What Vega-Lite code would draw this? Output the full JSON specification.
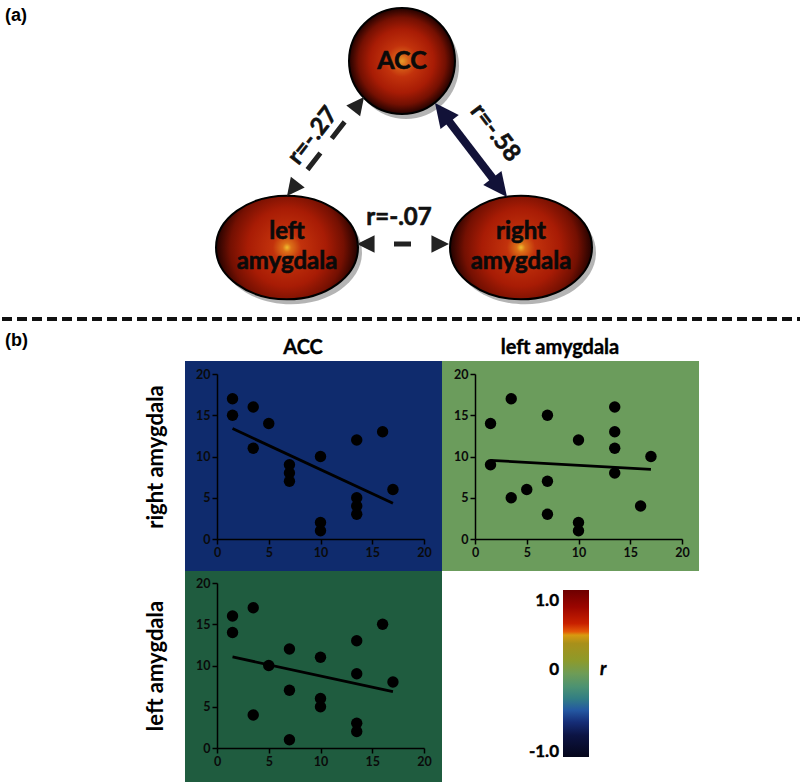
{
  "$schema": "https://vega.github.io/schema/vega-lite/v6.json",
  "padding": 0,
  "background": "white",
  "spacing": -2,
  "config": {
    "font": "Lato",
    "view": {"stroke": null},
    "axis": {"domainColor": "#000", "domainWidth": 1.5, "tickColor": "#000", "tickWidth": 1.5, "tickSize": 5, "labelFont": "Lato", "labelFontSize": 12.5, "labelFontWeight": "bold", "labelColor": "#0a0a0a", "labelPadding": 2, "titleFont": "Lato", "titleFontSize": 22, "titleFontWeight": "bold", "titleColor": "#000", "titlePadding": 28, "grid": false}
  },
  "datasets": {
    "nodes": [
      {"region": "ACC", "cx": 400, "cy": 61, "label": "ACC"},
      {"region": "left amygdala", "cx": 285, "cy": 247.5, "label": ["left", "amygdala"]},
      {"region": "right amygdala", "cx": 519, "cy": 247.5, "label": ["right", "amygdala"]}
    ],
    "edges": [
      {"pair": "ACC-right amygdala", "r": -0.58, "label": "r=-.58", "xa": 445.8, "ya": 119.7, "xb": 492.2, "yb": 180.3, "lx": 493, "ly": 133, "angle": 52.5},
      {"pair": "ACC-left amygdala", "r": -0.27, "label": "r=-.27", "xa": 354.0, "ya": 107.3, "xb": 293.0, "yb": 185.7, "lx": 311, "ly": 136, "angle": -52},
      {"pair": "left amygdala-right amygdala", "r": -0.07, "label": "r=-.07", "xa": 368, "ya": 244, "xb": 434, "yb": 244, "lx": 397, "ly": 218, "angle": 0}
    ],
    "tips": [
      {"pair": "ACC-right amygdala", "tx": 433, "ty": 103, "dir": 322.5},
      {"pair": "ACC-right amygdala", "tx": 505, "ty": 197, "dir": 142.5},
      {"pair": "ACC-left amygdala", "tx": 362, "ty": 97, "dir": 37.9},
      {"pair": "ACC-left amygdala", "tx": 285, "ty": 196, "dir": 217.9},
      {"pair": "left amygdala-right amygdala", "tx": 355, "ty": 244, "dir": 270},
      {"pair": "left amygdala-right amygdala", "tx": 447, "ty": 244, "dir": 90}
    ],
    "panels": [
      {"panel": "(a)", "px": 3, "py": 21},
      {"panel": "(b)", "px": 3, "py": 346}
    ],
    "columns": [
      {"title": "ACC", "px": 301},
      {"title": "left amygdala", "px": 558}
    ],
    "tl": [
      {"xv": 1.5, "yv": 17}, {"xv": 1.5, "yv": 15}, {"xv": 3.5, "yv": 16}, {"xv": 3.5, "yv": 11}, {"xv": 5, "yv": 14},
      {"xv": 7, "yv": 9}, {"xv": 7, "yv": 8}, {"xv": 7, "yv": 7}, {"xv": 10, "yv": 10}, {"xv": 10, "yv": 2}, {"xv": 10, "yv": 1},
      {"xv": 13.5, "yv": 12}, {"xv": 13.5, "yv": 5}, {"xv": 13.5, "yv": 4}, {"xv": 13.5, "yv": 3}, {"xv": 16, "yv": 13}, {"xv": 17, "yv": 6}
    ],
    "tr": [
      {"xv": 1.5, "yv": 14}, {"xv": 1.5, "yv": 9}, {"xv": 3.5, "yv": 17}, {"xv": 3.5, "yv": 5}, {"xv": 5, "yv": 6},
      {"xv": 7, "yv": 15}, {"xv": 7, "yv": 7}, {"xv": 7, "yv": 3}, {"xv": 10, "yv": 12}, {"xv": 10, "yv": 2}, {"xv": 10, "yv": 1},
      {"xv": 13.5, "yv": 16}, {"xv": 13.5, "yv": 13}, {"xv": 13.5, "yv": 11}, {"xv": 13.5, "yv": 8}, {"xv": 16, "yv": 4}, {"xv": 17, "yv": 10}
    ],
    "bl": [
      {"xv": 1.5, "yv": 16}, {"xv": 1.5, "yv": 14}, {"xv": 3.5, "yv": 17}, {"xv": 3.5, "yv": 4}, {"xv": 5, "yv": 10},
      {"xv": 7, "yv": 12}, {"xv": 7, "yv": 7}, {"xv": 7, "yv": 1}, {"xv": 10, "yv": 11}, {"xv": 10, "yv": 6}, {"xv": 10, "yv": 5},
      {"xv": 13.5, "yv": 13}, {"xv": 13.5, "yv": 9}, {"xv": 13.5, "yv": 3}, {"xv": 13.5, "yv": 2}, {"xv": 16, "yv": 15}, {"xv": 17, "yv": 8}
    ],
    "ticks": [
      {"r": 1, "lab": "1.0"},
      {"r": 0, "lab": "0"},
      {"r": -1, "lab": "-1.0"}
    ]
  },
  "vconcat": [
    {
      "width": 800,
      "height": 362,
      "layer": [
        {
          "data": {"values": [{}]},
          "mark": {"type": "rule", "strokeWidth": 4, "strokeDash": [10, 5], "color": "#111"},
          "encoding": {
            "x": {"datum": 0, "type": "quantitative", "scale": {"domain": [0, 800], "nice": false, "zero": false}, "axis": null},
            "x2": {"datum": 800},
            "y": {"datum": 319, "type": "quantitative", "scale": {"domain": [0, 362], "reverse": true, "nice": false, "zero": false}, "axis": null}
          }
        },
        {
          "data": {"name": "nodes"},
          "transform": [{"filter": "datum.region != 'ACC'"}],
          "mark": {"type": "point", "filled": true, "shape": "M -1 0 A 1 0.73 0 1 1 1 0 A 1 0.73 0 1 1 -1 0 Z", "size": 20164, "fill": "#444", "opacity": 0.4, "strokeWidth": 0, "xOffset": 4, "yOffset": 5},
          "encoding": {
            "x": {"field": "cx", "type": "quantitative", "scale": {"domain": [0, 800], "nice": false, "zero": false}, "axis": null},
            "y": {"field": "cy", "type": "quantitative", "scale": {"domain": [0, 362], "reverse": true, "nice": false, "zero": false}, "axis": null}
          }
        },
        {
          "data": {"name": "nodes"},
          "transform": [{"filter": "datum.region == 'ACC'"}],
          "mark": {"type": "point", "filled": true, "shape": "circle", "size": 11236, "fill": "#444", "opacity": 0.4, "strokeWidth": 0, "xOffset": 4, "yOffset": 5},
          "encoding": {
            "x": {"field": "cx", "type": "quantitative", "scale": {"domain": [0, 800], "nice": false, "zero": false}, "axis": null},
            "y": {"field": "cy", "type": "quantitative", "scale": {"domain": [0, 362], "reverse": true, "nice": false, "zero": false}, "axis": null}
          }
        },
        {
          "data": {"name": "nodes"},
          "transform": [{"filter": "datum.region != 'ACC'"}],
          "mark": {"type": "point", "filled": true, "shape": "M -1 0 A 1 0.73 0 1 1 1 0 A 1 0.73 0 1 1 -1 0 Z", "size": 20164, "opacity": 1, "stroke": "#000", "strokeWidth": 2,
            "fill": {"gradient": "radial", "x1": 0.5, "y1": 0.5, "r1": 0, "x2": 0.5, "y2": 0.5, "r2": 0.5, "stops": [{"offset": 0, "color": "#f0c030"}, {"offset": 0.06, "color": "#dc7018"}, {"offset": 0.2, "color": "#c2320c"}, {"offset": 0.55, "color": "#a81c05"}, {"offset": 0.8, "color": "#741002"}, {"offset": 1, "color": "#220200"}]}},
          "encoding": {
            "x": {"field": "cx", "type": "quantitative", "scale": {"domain": [0, 800], "nice": false, "zero": false}, "axis": null},
            "y": {"field": "cy", "type": "quantitative", "scale": {"domain": [0, 362], "reverse": true, "nice": false, "zero": false}, "axis": null}
          }
        },
        {
          "data": {"name": "nodes"},
          "transform": [{"filter": "datum.region == 'ACC'"}],
          "mark": {"type": "point", "filled": true, "shape": "circle", "size": 11236, "opacity": 1, "stroke": "#000", "strokeWidth": 2,
            "fill": {"gradient": "radial", "x1": 0.5, "y1": 0.5, "r1": 0, "x2": 0.5, "y2": 0.5, "r2": 0.5, "stops": [{"offset": 0, "color": "#e89a28"}, {"offset": 0.12, "color": "#d86018"}, {"offset": 0.3, "color": "#c2320c"}, {"offset": 0.6, "color": "#a81c05"}, {"offset": 0.82, "color": "#741002"}, {"offset": 1, "color": "#220200"}]}},
          "encoding": {
            "x": {"field": "cx", "type": "quantitative", "scale": {"domain": [0, 800], "nice": false, "zero": false}, "axis": null},
            "y": {"field": "cy", "type": "quantitative", "scale": {"domain": [0, 362], "reverse": true, "nice": false, "zero": false}, "axis": null}
          }
        },
        {
          "data": {"name": "nodes"},
          "transform": [{"filter": "datum.region == 'ACC'"}],
          "mark": {"type": "text", "font": "Lato", "fontSize": 25, "fontWeight": "bold", "color": "#0a0a0a", "stroke": "#0a0a0a", "strokeWidth": 0.6, "align": "center", "baseline": "middle"},
          "encoding": {
            "x": {"field": "cx", "type": "quantitative", "scale": {"domain": [0, 800], "nice": false, "zero": false}, "axis": null},
            "y": {"field": "cy", "type": "quantitative", "scale": {"domain": [0, 362], "reverse": true, "nice": false, "zero": false}, "axis": null},
            "text": {"field": "label", "type": "nominal"}
          }
        },
        {
          "data": {"name": "nodes"},
          "transform": [{"filter": "datum.region != 'ACC'"}],
          "mark": {"type": "text", "font": "Lato", "fontSize": 24, "fontWeight": "bold", "color": "#0a0a0a", "stroke": "#0a0a0a", "strokeWidth": 0.6, "align": "center", "baseline": "middle", "lineHeight": 30, "dy": -15.5},
          "encoding": {
            "x": {"field": "cx", "type": "quantitative", "scale": {"domain": [0, 800], "nice": false, "zero": false}, "axis": null},
            "y": {"field": "cy", "type": "quantitative", "scale": {"domain": [0, 362], "reverse": true, "nice": false, "zero": false}, "axis": null},
            "text": {"field": "label", "type": "nominal"}
          }
        },
        {
          "data": {"name": "edges"},
          "transform": [{"filter": "datum.pair == 'ACC-right amygdala'"}],
          "mark": {"type": "rule", "strokeWidth": 8, "color": "#121238", "strokeCap": "butt"},
          "encoding": {
            "x": {"field": "xa", "type": "quantitative", "scale": {"domain": [0, 800], "nice": false, "zero": false}, "axis": null},
            "y": {"field": "ya", "type": "quantitative", "scale": {"domain": [0, 362], "reverse": true, "nice": false, "zero": false}, "axis": null},
            "x2": {"field": "xb"},
            "y2": {"field": "yb"}
          }
        },
        {
          "data": {"name": "edges"},
          "transform": [{"filter": "datum.pair == 'ACC-left amygdala'"}],
          "mark": {"type": "rule", "strokeWidth": 5, "color": "#222", "strokeCap": "butt", "strokeDash": [21, 18.5], "strokeDashOffset": 21},
          "encoding": {
            "x": {"field": "xa", "type": "quantitative", "scale": {"domain": [0, 800], "nice": false, "zero": false}, "axis": null},
            "y": {"field": "ya", "type": "quantitative", "scale": {"domain": [0, 362], "reverse": true, "nice": false, "zero": false}, "axis": null},
            "x2": {"field": "xb"},
            "y2": {"field": "yb"}
          }
        },
        {
          "data": {"name": "edges"},
          "transform": [{"filter": "datum.pair == 'left amygdala-right amygdala'"}],
          "mark": {"type": "rule", "strokeWidth": 5, "color": "#222", "strokeCap": "butt", "strokeDash": [17, 24], "strokeDashOffset": 17},
          "encoding": {
            "x": {"field": "xa", "type": "quantitative", "scale": {"domain": [0, 800], "nice": false, "zero": false}, "axis": null},
            "y": {"field": "ya", "type": "quantitative", "scale": {"domain": [0, 362], "reverse": true, "nice": false, "zero": false}, "axis": null},
            "x2": {"field": "xb"},
            "y2": {"field": "yb"}
          }
        },
        {
          "data": {"name": "tips"},
          "transform": [{"filter": "datum.pair == 'ACC-right amygdala'"}],
          "mark": {"type": "point", "filled": true, "shape": "M 0 0 L 0.62 1.3 L -0.62 1.3 Z", "size": 1369, "fill": "#121238", "opacity": 1, "strokeWidth": 0},
          "encoding": {
            "x": {"field": "tx", "type": "quantitative", "scale": {"domain": [0, 800], "nice": false, "zero": false}, "axis": null},
            "y": {"field": "ty", "type": "quantitative", "scale": {"domain": [0, 362], "reverse": true, "nice": false, "zero": false}, "axis": null},
            "angle": {"field": "dir", "type": "quantitative", "scale": null}
          }
        },
        {
          "data": {"name": "tips"},
          "transform": [{"filter": "datum.pair != 'ACC-right amygdala'"}],
          "mark": {"type": "point", "filled": true, "shape": "M 0 0 L 0.65 1.3 L -0.65 1.3 Z", "size": 729, "fill": "#222", "opacity": 1, "strokeWidth": 0},
          "encoding": {
            "x": {"field": "tx", "type": "quantitative", "scale": {"domain": [0, 800], "nice": false, "zero": false}, "axis": null},
            "y": {"field": "ty", "type": "quantitative", "scale": {"domain": [0, 362], "reverse": true, "nice": false, "zero": false}, "axis": null},
            "angle": {"field": "dir", "type": "quantitative", "scale": null}
          }
        },
        {
          "data": {"name": "edges"},
          "mark": {"type": "text", "font": "Lato", "fontSize": 24, "fontWeight": "bold", "color": "#111", "stroke": "#111", "strokeWidth": 0.6, "align": "center", "baseline": "middle"},
          "encoding": {
            "x": {"field": "lx", "type": "quantitative", "scale": {"domain": [0, 800], "nice": false, "zero": false}, "axis": null},
            "y": {"field": "ly", "type": "quantitative", "scale": {"domain": [0, 362], "reverse": true, "nice": false, "zero": false}, "axis": null},
            "angle": {"field": "angle", "type": "quantitative", "scale": null},
            "text": {"field": "label", "type": "nominal"}
          }
        },
        {
          "data": {"name": "panels"},
          "mark": {"type": "text", "font": "Liberation Sans", "fontSize": 18, "fontWeight": "bold", "color": "#000", "align": "left", "baseline": "alphabetic"},
          "encoding": {
            "x": {"field": "px", "type": "quantitative", "scale": {"domain": [0, 800], "nice": false, "zero": false}, "axis": null},
            "y": {"field": "py", "type": "quantitative", "scale": {"domain": [0, 362], "reverse": true, "nice": false, "zero": false}, "axis": null},
            "text": {"field": "panel", "type": "nominal"}
          }
        },
        {
          "data": {"name": "columns"},
          "mark": {"type": "text", "font": "Lato", "fontSize": 20, "fontWeight": "bold", "color": "#000", "stroke": "#000", "strokeWidth": 0.4, "align": "center", "baseline": "alphabetic"},
          "encoding": {
            "x": {"field": "px", "type": "quantitative", "scale": {"domain": [0, 800], "nice": false, "zero": false}, "axis": null},
            "y": {"datum": 354, "type": "quantitative", "scale": {"domain": [0, 362], "reverse": true, "nice": false, "zero": false}, "axis": null},
            "text": {"field": "title", "type": "nominal"}
          }
        }
      ]
    },
    {
      "hconcat": [
        {"width": 164, "height": 165, "data": {"values": [{}]}, "mark": {"type": "text", "text": ""}},
        {
          "width": 207,
          "height": 165,
          "layer": [
            {
              "data": {"values": [{}]},
              "mark": {"type": "rect", "color": "#0f2b6d"},
              "encoding": {
                "x": {"datum": -3.092, "type": "quantitative", "scale": {"domain": [0, 20], "nice": false, "zero": false}, "axis": {"values": [0, 5, 10, 15, 20], "title": null, "zindex": 1, "labelFlush": false, "labelOverlap": false}},
                "x2": {"datum": 22.1},
                "y": {"datum": -3.879, "type": "quantitative", "scale": {"domain": [0, 20], "nice": false, "zero": false}, "axis": {"values": [0, 5, 10, 15, 20], "title": "right amygdala", "zindex": 1, "labelOverlap": false}},
                "y2": {"datum": 21.576}
              }
            },
            {
              "data": {"name": "tl"},
              "mark": {"type": "point", "filled": true, "color": "#000", "size": 130, "opacity": 1},
              "encoding": {
                "x": {"field": "xv", "type": "quantitative", "scale": {"domain": [0, 20], "nice": false, "zero": false}, "axis": {"values": [0, 5, 10, 15, 20], "title": null, "zindex": 1, "labelFlush": false, "labelOverlap": false}},
                "y": {"field": "yv", "type": "quantitative", "scale": {"domain": [0, 20], "nice": false, "zero": false}, "axis": {"values": [0, 5, 10, 15, 20], "title": "right amygdala", "zindex": 1, "labelOverlap": false}}
              }
            },
            {
              "data": {"name": "tl"},
              "transform": [{"regression": "yv", "on": "xv"}],
              "mark": {"type": "line", "color": "#000", "strokeWidth": 2.8},
              "encoding": {
                "x": {"field": "xv", "type": "quantitative", "scale": {"domain": [0, 20], "nice": false, "zero": false}, "axis": {"values": [0, 5, 10, 15, 20], "title": null, "zindex": 1, "labelFlush": false, "labelOverlap": false}},
                "y": {"field": "yv", "type": "quantitative", "scale": {"domain": [0, 20], "nice": false, "zero": false}, "axis": {"values": [0, 5, 10, 15, 20], "title": "right amygdala", "zindex": 1, "labelOverlap": false}}
              }
            }
          ]
        },
        {
          "width": 207,
          "height": 165,
          "layer": [
            {
              "data": {"values": [{}]},
              "mark": {"type": "rect", "color": "#6b9c5c"},
              "encoding": {
                "x": {"datum": -3.188, "type": "quantitative", "scale": {"domain": [0, 20], "nice": false, "zero": false}, "axis": {"values": [0, 5, 10, 15, 20], "title": null, "zindex": 1, "labelFlush": false, "labelOverlap": false}},
                "x2": {"datum": 21.643},
                "y": {"datum": -3.879, "type": "quantitative", "scale": {"domain": [0, 20], "nice": false, "zero": false}, "axis": {"values": [0, 5, 10, 15, 20], "title": null, "zindex": 1, "labelOverlap": false}},
                "y2": {"datum": 21.576}
              }
            },
            {
              "data": {"name": "tr"},
              "mark": {"type": "point", "filled": true, "color": "#000", "size": 130, "opacity": 1},
              "encoding": {
                "x": {"field": "xv", "type": "quantitative", "scale": {"domain": [0, 20], "nice": false, "zero": false}, "axis": {"values": [0, 5, 10, 15, 20], "title": null, "zindex": 1, "labelFlush": false, "labelOverlap": false}},
                "y": {"field": "yv", "type": "quantitative", "scale": {"domain": [0, 20], "nice": false, "zero": false}, "axis": {"values": [0, 5, 10, 15, 20], "title": null, "zindex": 1, "labelOverlap": false}}
              }
            },
            {
              "data": {"name": "tr"},
              "transform": [{"regression": "yv", "on": "xv"}],
              "mark": {"type": "line", "color": "#000", "strokeWidth": 2.8},
              "encoding": {
                "x": {"field": "xv", "type": "quantitative", "scale": {"domain": [0, 20], "nice": false, "zero": false}, "axis": {"values": [0, 5, 10, 15, 20], "title": null, "zindex": 1, "labelFlush": false, "labelOverlap": false}},
                "y": {"field": "yv", "type": "quantitative", "scale": {"domain": [0, 20], "nice": false, "zero": false}, "axis": {"values": [0, 5, 10, 15, 20], "title": null, "zindex": 1, "labelOverlap": false}}
              }
            }
          ]
        }
      ],
      "spacing": 51,
      "bounds": "flush"
    },
    {
      "hconcat": [
        {"width": 164, "height": 165, "data": {"values": [{}]}, "mark": {"type": "text", "text": ""}},
        {
          "width": 207,
          "height": 165,
          "layer": [
            {
              "data": {"values": [{}]},
              "mark": {"type": "rect", "color": "#1f5c3f"},
              "encoding": {
                "x": {"datum": -3.092, "type": "quantitative", "scale": {"domain": [0, 20], "nice": false, "zero": false}, "axis": {"values": [0, 5, 10, 15, 20], "title": null, "zindex": 1, "labelFlush": false, "labelOverlap": false}},
                "x2": {"datum": 21.739},
                "y": {"datum": -4.121, "type": "quantitative", "scale": {"domain": [0, 20], "nice": false, "zero": false}, "axis": {"values": [0, 5, 10, 15, 20], "title": "left amygdala", "zindex": 1, "labelOverlap": false}},
                "y2": {"datum": 21.455}
              }
            },
            {
              "data": {"name": "bl"},
              "mark": {"type": "point", "filled": true, "color": "#000", "size": 130, "opacity": 1},
              "encoding": {
                "x": {"field": "xv", "type": "quantitative", "scale": {"domain": [0, 20], "nice": false, "zero": false}, "axis": {"values": [0, 5, 10, 15, 20], "title": null, "zindex": 1, "labelFlush": false, "labelOverlap": false}},
                "y": {"field": "yv", "type": "quantitative", "scale": {"domain": [0, 20], "nice": false, "zero": false}, "axis": {"values": [0, 5, 10, 15, 20], "title": "left amygdala", "zindex": 1, "labelOverlap": false}}
              }
            },
            {
              "data": {"name": "bl"},
              "transform": [{"regression": "yv", "on": "xv"}],
              "mark": {"type": "line", "color": "#000", "strokeWidth": 2.8},
              "encoding": {
                "x": {"field": "xv", "type": "quantitative", "scale": {"domain": [0, 20], "nice": false, "zero": false}, "axis": {"values": [0, 5, 10, 15, 20], "title": null, "zindex": 1, "labelFlush": false, "labelOverlap": false}},
                "y": {"field": "yv", "type": "quantitative", "scale": {"domain": [0, 20], "nice": false, "zero": false}, "axis": {"values": [0, 5, 10, 15, 20], "title": "left amygdala", "zindex": 1, "labelOverlap": false}}
              }
            }
          ]
        },
        {
          "width": 224,
          "height": 199,
          "layer": [
            {
              "data": {"values": [{}]},
              "mark": {"type": "rect", "strokeWidth": 0,
                "fill": {"gradient": "linear", "x1": 0, "y1": 0, "x2": 0, "y2": 1, "stops": [
                  {"offset": 0, "color": "#6e0000"}, {"offset": 0.1, "color": "#9a0500"}, {"offset": 0.2, "color": "#c82000"},
                  {"offset": 0.25, "color": "#e45a08"}, {"offset": 0.27, "color": "#d89a10"}, {"offset": 0.32, "color": "#a8901a"},
                  {"offset": 0.42, "color": "#8e9a2a"}, {"offset": 0.5, "color": "#6e9c56"}, {"offset": 0.58, "color": "#4c9272"},
                  {"offset": 0.65, "color": "#327e84"}, {"offset": 0.72, "color": "#2458a2"}, {"offset": 0.79, "color": "#162e78"},
                  {"offset": 0.87, "color": "#0c1444"}, {"offset": 1, "color": "#05061a"}]}},
              "encoding": {
                "x": {"datum": 88, "type": "quantitative", "scale": {"domain": [0, 224], "nice": false, "zero": false}, "axis": null},
                "x2": {"datum": 114},
                "y": {"datum": -1, "type": "quantitative", "scale": {"domain": [-1.2994, 1.0838], "nice": false, "zero": false}, "axis": null},
                "y2": {"datum": 1}
              }
            },
            {
              "data": {"name": "ticks"},
              "transform": [{"filter": "datum.r == 1"}],
              "mark": {"type": "text", "font": "Lato", "fontSize": 17, "fontWeight": "bold", "color": "#000", "stroke": "#000", "strokeWidth": 0.4, "align": "right", "baseline": "top", "dy": 3},
              "encoding": {
                "x": {"datum": 84, "type": "quantitative", "scale": {"domain": [0, 224], "nice": false, "zero": false}, "axis": null},
                "y": {"field": "r", "type": "quantitative", "scale": {"domain": [-1.2994, 1.0838], "nice": false, "zero": false}, "axis": null},
                "text": {"field": "lab", "type": "nominal"}
              }
            },
            {
              "data": {"name": "ticks"},
              "transform": [{"filter": "datum.r == 0"}],
              "mark": {"type": "text", "font": "Lato", "fontSize": 17, "fontWeight": "bold", "color": "#000", "stroke": "#000", "strokeWidth": 0.4, "align": "right", "baseline": "middle", "dy": -3},
              "encoding": {
                "x": {"datum": 84, "type": "quantitative", "scale": {"domain": [0, 224], "nice": false, "zero": false}, "axis": null},
                "y": {"field": "r", "type": "quantitative", "scale": {"domain": [-1.2994, 1.0838], "nice": false, "zero": false}, "axis": null},
                "text": {"field": "lab", "type": "nominal"}
              }
            },
            {
              "data": {"name": "ticks"},
              "transform": [{"filter": "datum.r == -1"}],
              "mark": {"type": "text", "font": "Lato", "fontSize": 17, "fontWeight": "bold", "color": "#000", "stroke": "#000", "strokeWidth": 0.4, "align": "right", "baseline": "alphabetic"},
              "encoding": {
                "x": {"datum": 84, "type": "quantitative", "scale": {"domain": [0, 224], "nice": false, "zero": false}, "axis": null},
                "y": {"field": "r", "type": "quantitative", "scale": {"domain": [-1.2994, 1.0838], "nice": false, "zero": false}, "axis": null},
                "text": {"field": "lab", "type": "nominal"}
              }
            },
            {
              "data": {"values": [{"symbol": "r"}]},
              "mark": {"type": "text", "font": "Lato", "fontSize": 18, "fontWeight": "bold", "fontStyle": "italic", "color": "#000", "stroke": "#000", "strokeWidth": 0.4, "align": "left", "baseline": "middle", "dy": -3},
              "encoding": {
                "x": {"datum": 125, "type": "quantitative", "scale": {"domain": [0, 224], "nice": false, "zero": false}, "axis": null},
                "y": {"datum": 0, "type": "quantitative", "scale": {"domain": [-1.2994, 1.0838], "nice": false, "zero": false}, "axis": null},
                "text": {"field": "symbol", "type": "nominal"}
              }
            }
          ]
        }
      ],
      "spacing": 51,
      "bounds": "flush"
    }
  ]
}
